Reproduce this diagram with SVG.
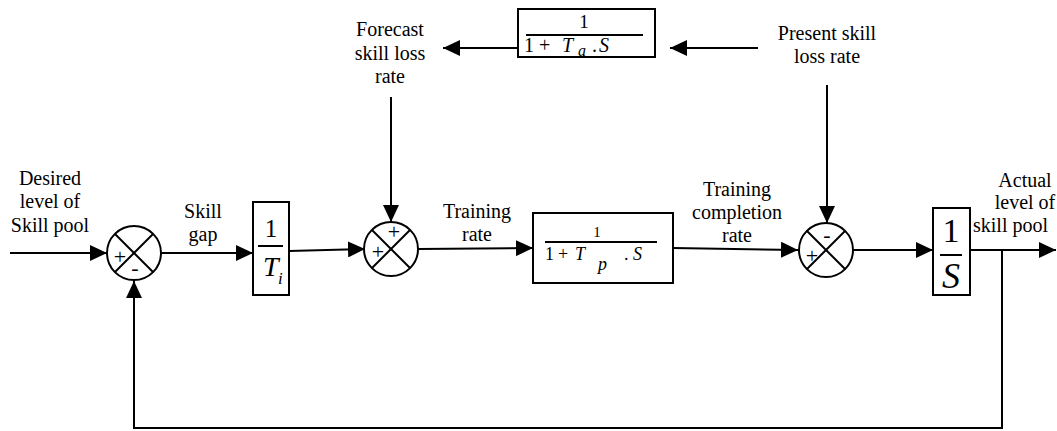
<svg xmlns="http://www.w3.org/2000/svg" width="1057" height="431" viewBox="0 0 1057 431">
<style>
.ln{fill:none;stroke:#000;stroke-width:2}
.bx{fill:#fff;stroke:#000;stroke-width:2}
.t{font-family:"Liberation Serif","Times New Roman",serif;font-size:20px;fill:#000;text-anchor:middle}
.m{font-family:"Liberation Serif","Times New Roman",serif;fill:#000}
.i{font-style:italic}
.sg{font-family:"Liberation Serif","Times New Roman",serif;font-size:22px;fill:#000;text-anchor:middle}
</style>
<defs>
<marker id="ah" markerUnits="userSpaceOnUse" markerWidth="18" markerHeight="16" refX="17" refY="8" orient="auto">
<path d="M0,0 L17,8 L0,16 Z" fill="#000"/>
</marker>
</defs>
<rect width="1057" height="431" fill="#fff"/>

<g id="connectors">
<line class="ln" x1="10" y1="253" x2="107" y2="253" marker-end="url(#ah)"/>
<line class="ln" x1="161" y1="253" x2="253" y2="253" marker-end="url(#ah)"/>
<line class="ln" x1="289" y1="251" x2="365" y2="249" marker-end="url(#ah)"/>
<line class="ln" x1="391" y1="97" x2="391" y2="222" marker-end="url(#ah)"/>
<line class="ln" x1="418" y1="249" x2="533" y2="248" marker-end="url(#ah)"/>
<line class="ln" x1="673" y1="248" x2="798" y2="250" marker-end="url(#ah)"/>
<line class="ln" x1="827" y1="85" x2="827" y2="223" marker-end="url(#ah)"/>
<line class="ln" x1="853" y1="250" x2="933" y2="250" marker-end="url(#ah)"/>
<line class="ln" x1="970" y1="250" x2="1056" y2="250" marker-end="url(#ah)"/>
<polyline class="ln" points="1002,250 1002,428 134,428 134,281" marker-end="url(#ah)"/>
<line class="ln" x1="518" y1="48" x2="443" y2="48" marker-end="url(#ah)"/>
<line class="ln" x1="758" y1="48" x2="670" y2="48" marker-end="url(#ah)"/>
</g>

<g id="sum1">
<circle class="bx" cx="134" cy="253" r="27"/>
<line class="ln" x1="115" y1="234" x2="153" y2="272"/>
<line class="ln" x1="153" y1="234" x2="115" y2="272"/>
<text class="sg" x="120" y="264">+</text>
<text class="sg" x="135" y="275">-</text>
</g>

<g id="gain-Ti">
<rect class="bx" x="253" y="202" width="36" height="93"/>
<text class="m" x="271" y="237" font-size="25" text-anchor="middle">1</text>
<line class="ln" x1="258" y1="246" x2="283" y2="246"/>
<text class="m i" x="263" y="276" font-size="28">T</text>
<text class="m i" x="278" y="284" font-size="17">i</text>
</g>

<g id="sum2">
<circle class="bx" cx="391" cy="249" r="27"/>
<line class="ln" x1="372" y1="230" x2="410" y2="268"/>
<line class="ln" x1="410" y1="230" x2="372" y2="268"/>
<text class="sg" x="394" y="239">+</text>
<text class="sg" x="378" y="259">+</text>
</g>

<g id="lag-Tp">
<rect class="bx" x="533" y="213" width="140" height="70"/>
<text class="m" x="597" y="237" font-size="15" text-anchor="middle">1</text>
<line class="ln" x1="545" y1="242" x2="657" y2="242" stroke-width="1.5"/>
<text class="m" x="545" y="260" font-size="18">1</text>
<text class="m" x="558" y="260" font-size="18">+</text>
<text class="m i" x="575" y="260" font-size="18">T</text>
<text class="m i" x="598" y="270" font-size="18">p</text>
<text class="m" x="624" y="260" font-size="18">.</text>
<text class="m i" x="633" y="260" font-size="18">S</text>
</g>

<g id="sum3">
<circle class="bx" cx="826" cy="250" r="27"/>
<line class="ln" x1="807" y1="231" x2="845" y2="269"/>
<line class="ln" x1="845" y1="231" x2="807" y2="269"/>
<text class="sg" x="827" y="242">-</text>
<text class="sg" x="812" y="263">+</text>
</g>

<g id="integrator">
<rect class="bx" x="933" y="208" width="37" height="87"/>
<text class="m" x="951" y="242" font-size="34" text-anchor="middle">1</text>
<line class="ln" x1="940" y1="255" x2="962" y2="255"/>
<text class="m i" x="951" y="288" font-size="36" text-anchor="middle">S</text>
</g>

<g id="lag-Ta">
<rect class="bx" x="518" y="9" width="137" height="48"/>
<text class="m" x="584" y="28" font-size="19" text-anchor="middle">1</text>
<line class="ln" x1="526" y1="35" x2="643" y2="35" stroke-width="1.5"/>
<text class="m" x="524" y="52" font-size="20">1</text>
<text class="m" x="539" y="52" font-size="20">+</text>
<text class="m i" x="562" y="52" font-size="20">T</text>
<text class="m i" x="578" y="56" font-size="16">a</text>
<text class="m" x="592" y="52" font-size="20">.</text>
<text class="m i" x="599" y="52" font-size="20">S</text>
</g>

<g id="labels">
<text class="t" x="50" y="185">Desired</text>
<text class="t" x="50" y="208">level of</text>
<text class="t" x="50" y="232">Skill pool</text>
<text class="t" x="203" y="218">Skill</text>
<text class="t" x="203" y="241">gap</text>
<text class="t" x="477" y="218">Training</text>
<text class="t" x="477" y="241">rate</text>
<text class="t" x="737" y="196">Training</text>
<text class="t" x="737" y="219">completion</text>
<text class="t" x="737" y="242">rate</text>
<text class="t" x="1025" y="187">Actual</text>
<text class="t" x="1025" y="209">level of</text>
<text class="t" x="973" y="232" style="text-anchor:start">skill pool</text>
<text class="t" x="390" y="36">Forecast</text>
<text class="t" x="390" y="60">skill loss</text>
<text class="t" x="390" y="83">rate</text>
<text class="t" x="827" y="40">Present skill</text>
<text class="t" x="827" y="63">loss rate</text>
</g>
</svg>
